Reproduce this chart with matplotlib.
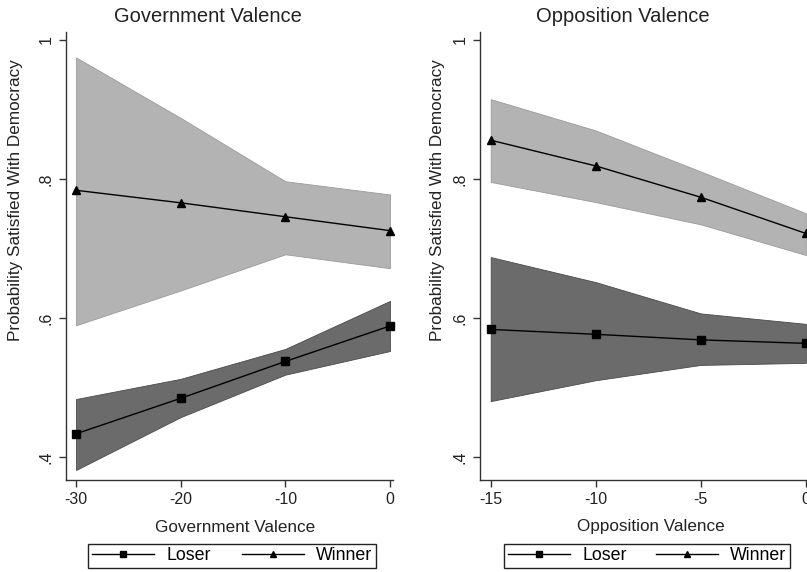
import matplotlib
matplotlib.use("Agg")
import matplotlib.pyplot as plt
from matplotlib.lines import Line2D

plt.rcParams['font.family'] = ['Liberation Sans', 'DejaVu Sans']

# ---- data ----
gov_x = [-30, -20, -10, 0]
gov_winner = [0.784, 0.766, 0.746, 0.726]
gov_winner_hi = [0.975, 0.888, 0.797, 0.778]
gov_winner_lo = [0.590, 0.640, 0.692, 0.672]
gov_loser = [0.434, 0.485, 0.538, 0.589]
gov_loser_hi = [0.484, 0.513, 0.556, 0.625]
gov_loser_lo = [0.382, 0.458, 0.519, 0.553]

opp_x = [-15, -10, -5, 0]
opp_winner = [0.856, 0.819, 0.774, 0.722]
opp_winner_hi = [0.915, 0.870, 0.811, 0.751]
opp_winner_lo = [0.796, 0.767, 0.735, 0.691]
opp_loser = [0.584, 0.577, 0.569, 0.564]
opp_loser_hi = [0.688, 0.652, 0.607, 0.592]
opp_loser_lo = [0.481, 0.511, 0.533, 0.536]

yticks = [0.4, 0.6, 0.8, 1.0]
ytick_labels = ['.4', '.6', '.8', '1']
gov_ticks = [-30, -20, -10, 0]
opp_ticks = [-15, -10, -5, 0]

W, H = 807, 572
fig = plt.figure(figsize=(W / 100, H / 100), dpi=100)

LIGHT = '#b3b3b3'
DARK = '#6b6b6b'
AX = '#333333'


def px_axes(x0, x1, y0, y1):
    return fig.add_axes([x0 / W, 1 - y1 / H, (x1 - x0) / W, (y1 - y0) / H])


def style(ax, ticks, xlim):
    ax.set_xlim(*xlim)
    ax.set_ylim(0.3676, 1.0115)
    for s in ['top', 'right']:
        ax.spines[s].set_visible(False)
    for s in ['left', 'bottom']:
        ax.spines[s].set_color(AX)
        ax.spines[s].set_linewidth(1.0)
    ax.set_xticks(ticks)
    ax.set_xticklabels([str(t) for t in ticks])
    ax.set_yticks(yticks)
    ax.set_yticklabels(ytick_labels, rotation=90, va='center')
    ax.tick_params(axis='both', direction='out', length=5, width=1.0,
                   color=AX, labelsize=11.5, labelcolor='#222222', pad=4)


def draw(ax, x, w, wlo, whi, l, llo, lhi):
    ax.fill_between(x, wlo, whi, facecolor=LIGHT, edgecolor='#9a9a9a', linewidth=0.6, zorder=1)
    ax.fill_between(x, llo, lhi, facecolor=DARK, edgecolor='#4a4a4a', linewidth=0.6, zorder=1)
    ax.plot(x, l, color='black', lw=1.0, marker='s', ms=5.2, zorder=3, clip_on=False)
    ax.plot(x, w, color='black', lw=1.0, marker='^', ms=6.0, zorder=3, clip_on=False)


ax1 = px_axes(66, 393, 32, 480)
draw(ax1, gov_x, gov_winner, gov_winner_lo, gov_winner_hi,
     gov_loser, gov_loser_lo, gov_loser_hi)
style(ax1, gov_ticks, (-30.96, 0.29))

ax2 = px_axes(480, 809, 32, 480)
draw(ax2, opp_x, opp_winner, opp_winner_lo, opp_winner_hi,
     opp_loser, opp_loser_lo, opp_loser_hi)
style(ax2, opp_ticks, (-15.51, 0.15))

# titles and axis labels
fig.text(208 / W, 1 - 17 / H, 'Government Valence', ha='center', va='center',
         fontsize=14.5, color='#222222')
fig.text(623 / W, 1 - 17 / H, 'Opposition Valence', ha='center', va='center',
         fontsize=14.5, color='#222222')
fig.text(235 / W, 1 - 527 / H, 'Government Valence', ha='center', va='center',
         fontsize=12.3, color='#222222')
fig.text(651 / W, 1 - 527 / H, 'Opposition Valence', ha='center', va='center',
         fontsize=12.3, color='#222222')
fig.text(16 / W, 1 - 200 / H, 'Probability Satisfied With Democracy', rotation=90,
         ha='center', va='center', fontsize=12.3, color='#222222')
fig.text(437 / W, 1 - 200 / H, 'Probability Satisfied With Democracy', rotation=90,
         ha='center', va='center', fontsize=12.3, color='#222222')

handles = [Line2D([], [], color='black', lw=1.0, marker='s', ms=4.5),
           Line2D([], [], color='black', lw=1.0, marker='^', ms=5.0)]
names = ['Loser', 'Winner']


def add_legend(x0, x1, y0, y1):
    fig.legend(handles, names, ncol=2, loc='center',
               bbox_to_anchor=(x0 / W, 1 - y1 / H, (x1 - x0) / W, (y1 - y0) / H),
               mode='expand', frameon=True, fancybox=False, edgecolor='#222222',
               framealpha=1, fontsize=12.8, handlelength=3.5, handletextpad=0.7,
               columnspacing=2.0, borderpad=0.2, borderaxespad=0)


add_legend(88, 376, 542, 570)
add_legend(504, 790, 542, 570)

fig.savefig('out.png', dpi=100)
